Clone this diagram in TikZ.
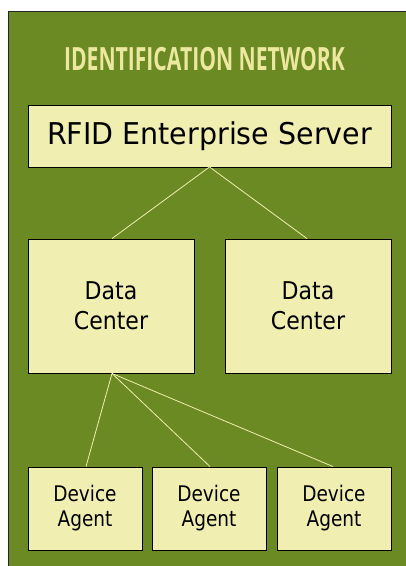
\documentclass[tikz,border=0pt]{standalone}
\usepackage{fontspec}
\setmainfont{DejaVu Sans}
\newfontfamily\titlefont{Open Sans}
\definecolor{bggreen}{RGB}{107,138,35}
\definecolor{boxfill}{RGB}{240,238,176}
\definecolor{titlecol}{RGB}{236,232,160}
\begin{document}
\begin{tikzpicture}[x=1pt,y=-1pt,
  box/.style={draw=black, line width=0.9pt, fill=boxfill, inner sep=0pt, align=center, text=black},
  link/.style={draw=boxfill, line width=0.8pt}]
\useasboundingbox (0,0) rectangle (406,566);
\fill[white] (0,0) rectangle (406,566);
\fill[bggreen] (8,11) rectangle (410,570);
\draw[black!85, line width=1pt] (8,570) -- (8,11) -- (410,11);
\node[text=titlecol, inner sep=0pt] (title) at (204.5,59.5)
  {\scalebox{0.66}[1]{\titlefont\bfseries\fontsize{32}{32}\selectfont IDENTIFICATION NETWORK}};
\node[box, minimum width=363pt, minimum height=62pt,
  font=\fontsize{30}{30}\selectfont] (srv) at (209.5,136)
  {\scalebox{0.95}[1]{RFID Enterprise Server}};
\node[box, minimum width=166pt, minimum height=134pt,
  font=\fontsize{24.5}{30}\selectfont] (dc1) at (111,306) {\scalebox{0.9}[1]{Data}\\\scalebox{0.9}[1]{Center}};
\node[box, minimum width=166pt, minimum height=134pt,
  font=\fontsize{24.5}{30}\selectfont] (dc2) at (308,306) {\scalebox{0.9}[1]{Data}\\\scalebox{0.9}[1]{Center}};
\node[box, minimum width=114pt, minimum height=83pt,
  font=\fontsize{21.5}{25}\selectfont] (da1) at (85,508.5) {\scalebox{0.86}[1]{Device}\\\scalebox{0.86}[1]{Agent}};
\node[box, minimum width=114pt, minimum height=83pt,
  font=\fontsize{21.5}{25}\selectfont] (da2) at (209,508.5) {\scalebox{0.86}[1]{Device}\\\scalebox{0.86}[1]{Agent}};
\node[box, minimum width=114pt, minimum height=83pt,
  font=\fontsize{21.5}{25}\selectfont] (da3) at (334,508.5) {\scalebox{0.86}[1]{Device}\\\scalebox{0.86}[1]{Agent}};
\coordinate (srvb) at ([yshift=0.5pt]srv.south);
\draw[link] (srvb) -- ([xshift=1pt]dc1.north);
\draw[link] (srvb) -- ([xshift=-1pt]dc2.north);
\draw[link] ([xshift=1pt]dc1.south) -- ([xshift=1pt]da1.north);
\draw[link] ([xshift=1pt]dc1.south) -- ([xshift=1pt]da2.north);
\draw[link] ([xshift=1pt]dc1.south) -- ([xshift=-1pt]da3.north);
\end{tikzpicture}
\end{document}
